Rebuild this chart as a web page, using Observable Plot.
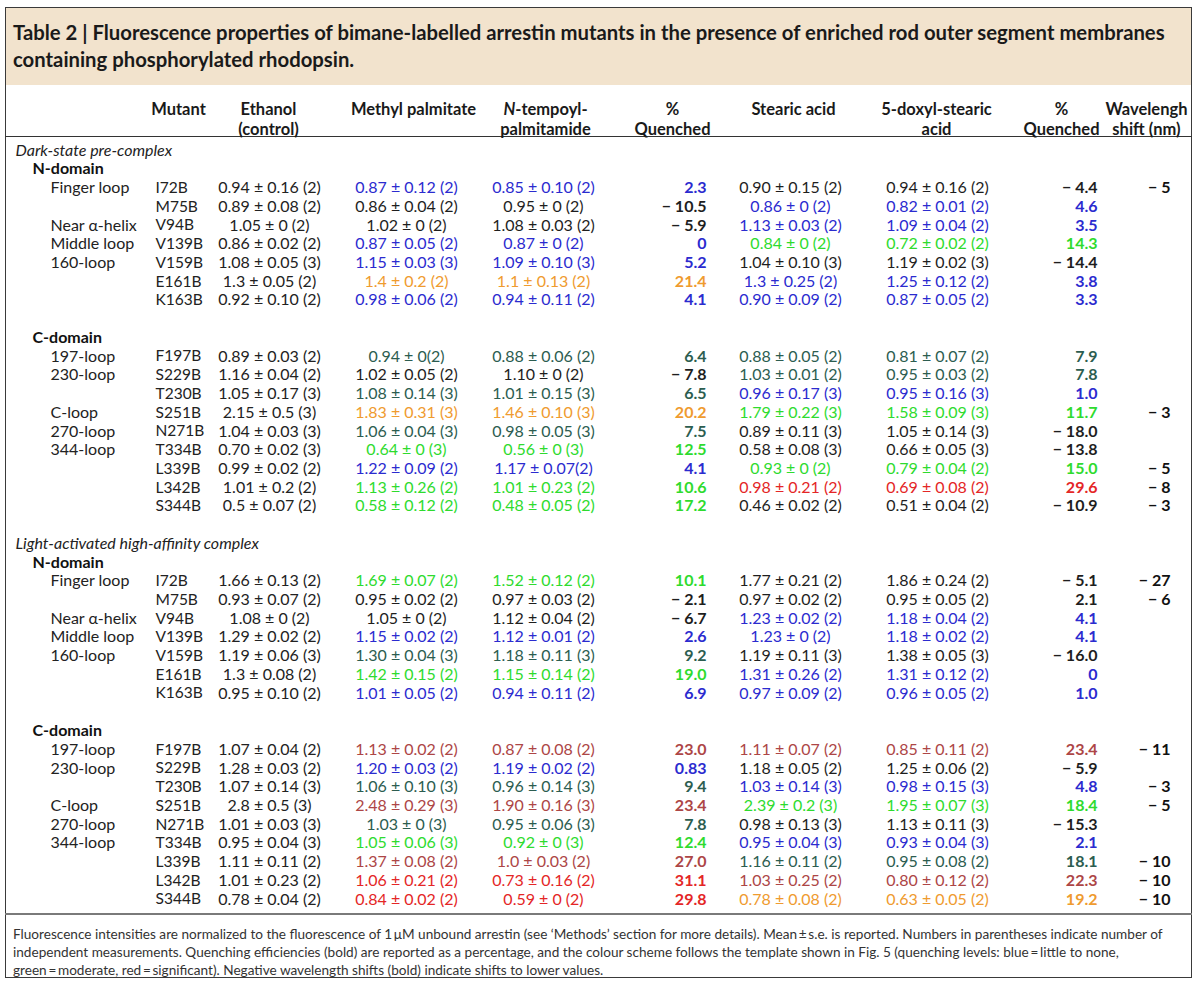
<!DOCTYPE html>
<html><head><meta charset="utf-8">
<script src="https://cdn.jsdelivr.net/npm/d3@7"></script>
<script src="https://cdn.jsdelivr.net/npm/@observablehq/plot@0.6"></script>
<style>
body{margin:0;background:#fff;font-family:Lato,"Open Sans",sans-serif;color:#222;overflow:hidden}
#frame{position:absolute;left:5px;top:7px;width:1187px;height:971px;border:1px solid #3a3a3a;box-sizing:border-box}
#band{position:absolute;left:6px;top:8px;width:1185px;height:77px;background:#f2e3cd}
#title{position:absolute;left:13px;top:19px;font-weight:bold;font-size:20.3px;line-height:27px;color:#1a1a1a;white-space:nowrap}
#chart{position:absolute;left:0;top:85px;width:1200px}
#rule{position:absolute;left:5px;top:913px;width:1187px;height:2px;background:#7a7a7a}
#footer{position:absolute;left:13px;top:925px;font-size:13.6px;line-height:18px;color:#333;white-space:nowrap}
</style>
</head><body>
<div id="frame"></div><div id="band"></div>
<div id="title"></div>
<div id="chart"></div>
<div id="rule"></div>
<div id="footer"></div>
<script>
// ---------- text ----------
const titleLines = ["Table 2 | Fluorescence properties of bimane-labelled arrestin mutants in the presence of enriched rod outer segment membranes", "containing phosphorylated rhodopsin."];
const footerLines = [
  "Fluorescence intensities are normalized to the fluorescence of 1\u2009\u03bcM unbound arrestin (see \u2018Methods\u2019 section for more details). Mean\u2009\u00b1\u2009s.e. is reported. Numbers in parentheses indicate number of",
  "independent measurements. Quenching efficiencies (bold) are reported as a percentage, and the colour scheme follows the template shown in Fig. 5 (quenching levels: blue\u2009=\u2009little to none,",
  "green\u2009=\u2009moderate, red\u2009=\u2009significant). Negative wavelength shifts (bold) indicate shifts to lower values."
];
const headerLabels = ["Mutant", "Ethanol\n(control)", "Methyl palmitate", "N-tempoyl-\npalmitamide", "%\nQuenched", "Stearic acid", "5-doxyl-stearic\nacid", "%\nQuenched", "Wavelengh\nshift (nm)"];
const stateLabels = ["Dark-state pre-complex", "Light-activated high-affinity complex"];
const domainLabels = ["N-domain", "C-domain"];

// ---------- categories ----------
const mutants = ["I72B","M75B","V94B","V139B","V159B","E161B","K163B","F197B","S229B","T230B","S251B","N271B","T334B","L339B","L342B","S344B"];
const regions = ["Finger loop","","Near \u03b1-helix","Middle loop","160-loop","","","197-loop","230-loop","","C-loop","270-loop","344-loop","","",""];
// quenching level codes: k none/negative, b blue, t dark green, g green, o orange, r red, m dark red
const levelCodes = ["k","b","t","g","o","r","m"];

// ---------- dark-state pre-complex ----------
const darkEthanol = ["0.94 ± 0.16 (2)","0.89 ± 0.08 (2)","1.05 ± 0 (2)","0.86 ± 0.02 (2)","1.08 ± 0.05 (3)","1.3 ± 0.05 (2)","0.92 ± 0.10 (2)","0.89 ± 0.03 (2)","1.16 ± 0.04 (2)","1.05 ± 0.17 (3)","2.15 ± 0.5 (3)","1.04 ± 0.03 (3)","0.70 ± 0.02 (3)","0.99 ± 0.02 (2)","1.01 ± 0.2 (2)","0.5 ± 0.07 (2)"];
const darkMethyl = ["0.87 ± 0.12 (2)","0.86 ± 0.04 (2)","1.02 ± 0 (2)","0.87 ± 0.05 (2)","1.15 ± 0.03 (3)","1.4 ± 0.2 (2)","0.98 ± 0.06 (2)","0.94 ± 0(2)","1.02 ± 0.05 (2)","1.08 ± 0.14 (3)","1.83 ± 0.31 (3)","1.06 ± 0.04 (3)","0.64 ± 0 (3)","1.22 ± 0.09 (2)","1.13 ± 0.26 (2)","0.58 ± 0.12 (2)"];
const darkTempoyl = ["0.85 ± 0.10 (2)","0.95 ± 0 (2)","1.08 ± 0.03 (2)","0.87 ± 0 (2)","1.09 ± 0.10 (3)","1.1 ± 0.13 (2)","0.94 ± 0.11 (2)","0.88 ± 0.06 (2)","1.10 ± 0 (2)","1.01 ± 0.15 (3)","1.46 ± 0.10 (3)","0.98 ± 0.05 (3)","0.56 ± 0 (3)","1.17 ± 0.07(2)","1.01 ± 0.23 (2)","0.48 ± 0.05 (2)"];
const darkQuench1 = ["2.3","-10.5","-5.9","0","5.2","21.4","4.1","6.4","-7.8","6.5","20.2","7.5","12.5","4.1","10.6","17.2"];
const darkLevel1 = ["b","k","k","b","b","o","b","t","k","t","o","t","g","b","g","g"];
const darkStearic = ["0.90 ± 0.15 (2)","0.86 ± 0 (2)","1.13 ± 0.03 (2)","0.84 ± 0 (2)","1.04 ± 0.10 (3)","1.3 ± 0.25 (2)","0.90 ± 0.09 (2)","0.88 ± 0.05 (2)","1.03 ± 0.01 (2)","0.96 ± 0.17 (3)","1.79 ± 0.22 (3)","0.89 ± 0.11 (3)","0.58 ± 0.08 (3)","0.93 ± 0 (2)","0.98 ± 0.21 (2)","0.46 ± 0.02 (2)"];
const darkDoxyl = ["0.94 ± 0.16 (2)","0.82 ± 0.01 (2)","1.09 ± 0.04 (2)","0.72 ± 0.02 (2)","1.19 ± 0.02 (3)","1.25 ± 0.12 (2)","0.87 ± 0.05 (2)","0.81 ± 0.07 (2)","0.95 ± 0.03 (2)","0.95 ± 0.16 (3)","1.58 ± 0.09 (3)","1.05 ± 0.14 (3)","0.66 ± 0.05 (3)","0.79 ± 0.04 (2)","0.69 ± 0.08 (2)","0.51 ± 0.04 (2)"];
const darkQuench2 = ["-4.4","4.6","3.5","14.3","-14.4","3.8","3.3","7.9","7.8","1.0","11.7","-18.0","-13.8","15.0","29.6","-10.9"];
const darkLevel2 = ["k","b","b","g","k","b","b","t","t","b","g","k","k","g","r","k"];
const darkShift = ["-5","","","","","","","","","","-3","","","-5","-8","-3"];

// ---------- light-activated high-affinity complex ----------
const lightEthanol = ["1.66 ± 0.13 (2)","0.93 ± 0.07 (2)","1.08 ± 0 (2)","1.29 ± 0.02 (2)","1.19 ± 0.06 (3)","1.3 ± 0.08 (2)","0.95 ± 0.10 (2)","1.07 ± 0.04 (2)","1.28 ± 0.03 (2)","1.07 ± 0.14 (3)","2.8 ± 0.5 (3)","1.01 ± 0.03 (3)","0.95 ± 0.04 (3)","1.11 ± 0.11 (2)","1.01 ± 0.23 (2)","0.78 ± 0.04 (2)"];
const lightMethyl = ["1.69 ± 0.07 (2)","0.95 ± 0.02 (2)","1.05 ± 0 (2)","1.15 ± 0.02 (2)","1.30 ± 0.04 (3)","1.42 ± 0.15 (2)","1.01 ± 0.05 (2)","1.13 ± 0.02 (2)","1.20 ± 0.03 (2)","1.06 ± 0.10 (3)","2.48 ± 0.29 (3)","1.03 ± 0 (3)","1.05 ± 0.06 (3)","1.37 ± 0.08 (2)","1.06 ± 0.21 (2)","0.84 ± 0.02 (2)"];
const lightTempoyl = ["1.52 ± 0.12 (2)","0.97 ± 0.03 (2)","1.12 ± 0.04 (2)","1.12 ± 0.01 (2)","1.18 ± 0.11 (3)","1.15 ± 0.14 (2)","0.94 ± 0.11 (2)","0.87 ± 0.08 (2)","1.19 ± 0.02 (2)","0.96 ± 0.14 (3)","1.90 ± 0.16 (3)","0.95 ± 0.06 (3)","0.92 ± 0 (3)","1.0 ± 0.03 (2)","0.73 ± 0.16 (2)","0.59 ± 0 (2)"];
const lightQuench1 = ["10.1","-2.1","-6.7","2.6","9.2","19.0","6.9","23.0","0.83","9.4","23.4","7.8","12.4","27.0","31.1","29.8"];
const lightLevel1 = ["g","k","k","b","t","g","b","m","b","t","m","t","g","m","r","r"];
const lightStearic = ["1.77 ± 0.21 (2)","0.97 ± 0.02 (2)","1.23 ± 0.02 (2)","1.23 ± 0 (2)","1.19 ± 0.11 (3)","1.31 ± 0.26 (2)","0.97 ± 0.09 (2)","1.11 ± 0.07 (2)","1.18 ± 0.05 (2)","1.03 ± 0.14 (3)","2.39 ± 0.2 (3)","0.98 ± 0.13 (3)","0.95 ± 0.04 (3)","1.16 ± 0.11 (2)","1.03 ± 0.25 (2)","0.78 ± 0.08 (2)"];
const lightDoxyl = ["1.86 ± 0.24 (2)","0.95 ± 0.05 (2)","1.18 ± 0.04 (2)","1.18 ± 0.02 (2)","1.38 ± 0.05 (3)","1.31 ± 0.12 (2)","0.96 ± 0.05 (2)","0.85 ± 0.11 (2)","1.25 ± 0.06 (2)","0.98 ± 0.15 (3)","1.95 ± 0.07 (3)","1.13 ± 0.11 (3)","0.93 ± 0.04 (3)","0.95 ± 0.08 (2)","0.80 ± 0.12 (2)","0.63 ± 0.05 (2)"];
const lightQuench2 = ["-5.1","2.1","4.1","4.1","-16.0","0","1.0","23.4","-5.9","4.8","18.4","-15.3","2.1","18.1","22.3","19.2"];
const lightLevel2 = ["k","k","b","b","k","b","b","m","k","b","g","k","b","t","m","o"];
const lightShift = ["-27","-6","","","","","","-11","","-3","-5","","","-10","-10","-10"];

// ---------- layout & style (not data) ----------
const L = {
  width: 1200, height: 830, firstRowY: 65, lastRowY: 814,
  frameLeft: 5, frameRight: 1192, headerRuleDy: -14, headerDy: -49,
  stateX: 15, domainX: 32, regionX: 50, mutantX: 155,
  ethanolX: 269, methylX: 406, tempoylX: 543, q1X: 706,
  stearicX: 790, doxylX: 937, q2X: 1097, shiftX: 1170,
  headerX: [178, 268, 413, 545, 672, 793, 936, 1061, 1146],
  fontSize: 16, mutantFontSize: 15.5, headerFontSize: 16.5
};
const levelColors = ["#1e1e1e", "#2b2bcf", "#2c5d50", "#2edb2e", "#ef9b2f", "#e42626", "#ad4646"];

// ---------- build table rows ----------
const sections = [
  {key: "d", label: stateLabels[0], eth: darkEthanol, met: darkMethyl, tem: darkTempoyl, q1: darkQuench1, l1: darkLevel1, ste: darkStearic, dox: darkDoxyl, q2: darkQuench2, l2: darkLevel2, sh: darkShift},
  {key: "l", label: stateLabels[1], eth: lightEthanol, met: lightMethyl, tem: lightTempoyl, q1: lightQuench1, l1: lightLevel1, ste: lightStearic, dox: lightDoxyl, q2: lightQuench2, l2: lightLevel2, sh: lightShift}
];
const fmt = v => v.startsWith("-") ? "\u2212 " + v.slice(1) : v;
const ids = [], stateRows = [], domainRows = [], rows = [];
sections.forEach((s, si) => {
  if (si > 0) ids.push(`gap-${s.key}`);
  ids.push(`${s.key}-state`); stateRows.push({id: `${s.key}-state`, text: s.label});
  mutants.forEach((m, i) => {
    if (i === 0 || i === 7) {
      if (i === 7) ids.push(`${s.key}-gapC`);
      const dk = `${s.key}-dom${i}`;
      ids.push(dk); domainRows.push({id: dk, text: domainLabels[i === 0 ? 0 : 1]});
    }
    const id = `${s.key}-${m}`;
    ids.push(id);
    rows.push({id, region: regions[i], mutant: m, eth: s.eth[i], met: s.met[i], tem: s.tem[i],
      q1: fmt(s.q1[i]), l1: s.l1[i], ste: s.ste[i], dox: s.dox[i], q2: fmt(s.q2[i]), l2: s.l2[i], sh: fmt(s.sh[i])});
  });
});
const rowIndex = new Map(ids.map((id, i) => [id, i]));
const rowY = d => rowIndex.get(d.id);

const base = {y: rowY, fontSize: L.fontSize};
const chart = Plot.plot({
  width: L.width, height: L.height,
  marginTop: 0, marginBottom: 0, marginLeft: 0, marginRight: 0,
  style: {fontFamily: "Lato, 'Open Sans', sans-serif", background: "transparent", overflow: "visible", maxWidth: "none"},
  x: {type: "linear", domain: [0, L.width], range: [0, L.width], axis: null},
  y: {type: "linear", domain: [0, ids.length - 1], range: [L.firstRowY, L.lastRowY], axis: null},
  color: {type: "ordinal", domain: levelCodes, range: levelColors},
  marks: [
    Plot.ruleY([0], {x1: L.frameLeft, x2: L.frameRight, dy: L.headerRuleDy, stroke: "#333", strokeWidth: 1}),
    Plot.text(headerLabels, {x: (d, i) => L.headerX[i], y: () => 0, dy: L.headerDy, lineAnchor: "top", lineHeight: 1.17, fontWeight: "bold", fontSize: L.headerFontSize, fill: "#1a1a1a"}),
    Plot.text(stateRows, {...base, x: () => L.stateX, text: "text", textAnchor: "start", fontStyle: "italic", fill: "#222"}),
    Plot.text(domainRows, {...base, x: () => L.domainX, text: "text", textAnchor: "start", fontWeight: "bold", fill: "#111"}),
    Plot.text(rows, {...base, x: () => L.regionX, text: "region", textAnchor: "start", fill: "#222"}),
    Plot.text(rows, {...base, x: () => L.mutantX, text: "mutant", textAnchor: "start", fill: "#222", fontSize: L.mutantFontSize}),
    Plot.text(rows, {...base, x: () => L.ethanolX, text: "eth", fill: "#222"}),
    Plot.text(rows, {...base, x: () => L.methylX, text: "met", fill: "l1"}),
    Plot.text(rows, {...base, x: () => L.tempoylX, text: "tem", fill: "l1"}),
    Plot.text(rows, {...base, x: () => L.q1X, text: "q1", fill: "l1", fontWeight: "bold", textAnchor: "end"}),
    Plot.text(rows, {...base, x: () => L.stearicX, text: "ste", fill: "l2"}),
    Plot.text(rows, {...base, x: () => L.doxylX, text: "dox", fill: "l2"}),
    Plot.text(rows, {...base, x: () => L.q2X, text: "q2", fill: "l2", fontWeight: "bold", textAnchor: "end"}),
    Plot.text(rows, {...base, x: () => L.shiftX, text: "sh", fill: "#111", fontWeight: "bold", textAnchor: "end"})
  ]
});
document.getElementById("chart").appendChild(chart);

// italic N in the "N-tempoyl-" header
d3.select(chart).selectAll("text tspan").each(function() {
  if (this.textContent === "N-tempoyl-") {
    const t = d3.select(this); t.text("");
    t.append("tspan").attr("font-style", "italic").text("N");
    t.append("tspan").text("-tempoyl-");
  }
});
document.getElementById("title").innerHTML = titleLines.join("<br>");
document.getElementById("footer").innerHTML = footerLines.join("<br>");
</script>
</body></html>
